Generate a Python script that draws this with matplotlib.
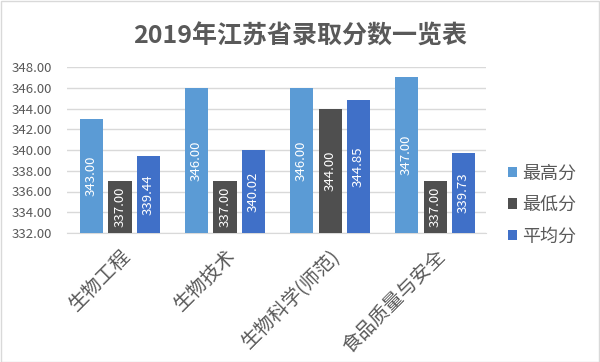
import matplotlib.pyplot as plt
import numpy as np
from matplotlib.patches import Patch, Rectangle

plt.rcParams['font.family'] = ['Noto Sans CJK SC', 'DejaVu Sans']

categories = ["生物工程", "生物技术", "生物科学(师范)", "食品质量与安全"]
series_names = ["最高分", "最低分", "平均分"]
max_scores = [343.00, 346.00, 346.00, 347.00]
min_scores = [337.00, 337.00, 344.00, 337.00]
avg_scores = [339.44, 340.02, 344.85, 339.73]
y_ticks = [332, 334, 336, 338, 340, 342, 344, 346, 348]

colors = ["#5b9bd5", "#4f4f4f", "#4070c8"]
text_color = "#595959"

fig = plt.figure(figsize=(6.0, 3.62), dpi=100)
ax = fig.add_axes([67 / 600, 1 - 233 / 362, 419 / 600, 166 / 362])

x = np.arange(len(categories))
width = 0.22
offsets = [-0.272, 0.0, 0.272]
for vals, off, col in zip([max_scores, min_scores, avg_scores], offsets, colors):
    bars = ax.bar(x + off, np.array(vals) - 332, width, bottom=332, color=col,
                  edgecolor="none", zorder=3)
    for b, v in zip(bars, vals):
        ax.text(b.get_x() + b.get_width() / 2, 332 + (v - 332) / 2, f"{v:.2f}",
                rotation=90, ha="center", va="center", color="white",
                fontsize=9.5, zorder=4)

ax.set_ylim(332, 348)
ax.set_xlim(-0.505, 3.485)
ax.set_yticks(y_ticks)
ax.set_yticklabels([f"{t:.2f}" for t in y_ticks])
ax.yaxis.grid(True, color="#d9d9d9", linewidth=1, zorder=0)
ax.set_axisbelow(True)
for s in ["top", "right", "left"]:
    ax.spines[s].set_visible(False)
ax.spines["bottom"].set_color("#d9d9d9")
ax.tick_params(axis="y", length=0, labelsize=9.5, labelcolor=text_color, pad=11)
ax.tick_params(axis="x", length=0, labelsize=14, labelcolor=text_color, pad=9)
ax.set_xticks(x)
ax.set_xticklabels(categories, rotation=45, ha="right", va="top",
                   rotation_mode="anchor")

fig.text(0.5, 1 - 37 / 362, "2019年江苏省录取分数一览表", ha="center", va="center",
         fontsize=18, fontweight="bold", color=text_color)

handles = [Patch(facecolor=c, edgecolor="none") for c in colors]
fig.legend(handles, series_names, loc="center left",
           bbox_to_anchor=(508 / 600, 1 - 205 / 362), frameon=False,
           fontsize=13, labelcolor=text_color, handlelength=0.5,
           handleheight=0.5, handletextpad=0.3, labelspacing=0.75,
           borderpad=0, borderaxespad=0)

fig.patches.append(Rectangle((0.001, 0.001), 0.997, 0.996, transform=fig.transFigure,
                             fill=False, edgecolor="#d9d9d9", linewidth=1))

fig.savefig("out.png", dpi=100)
